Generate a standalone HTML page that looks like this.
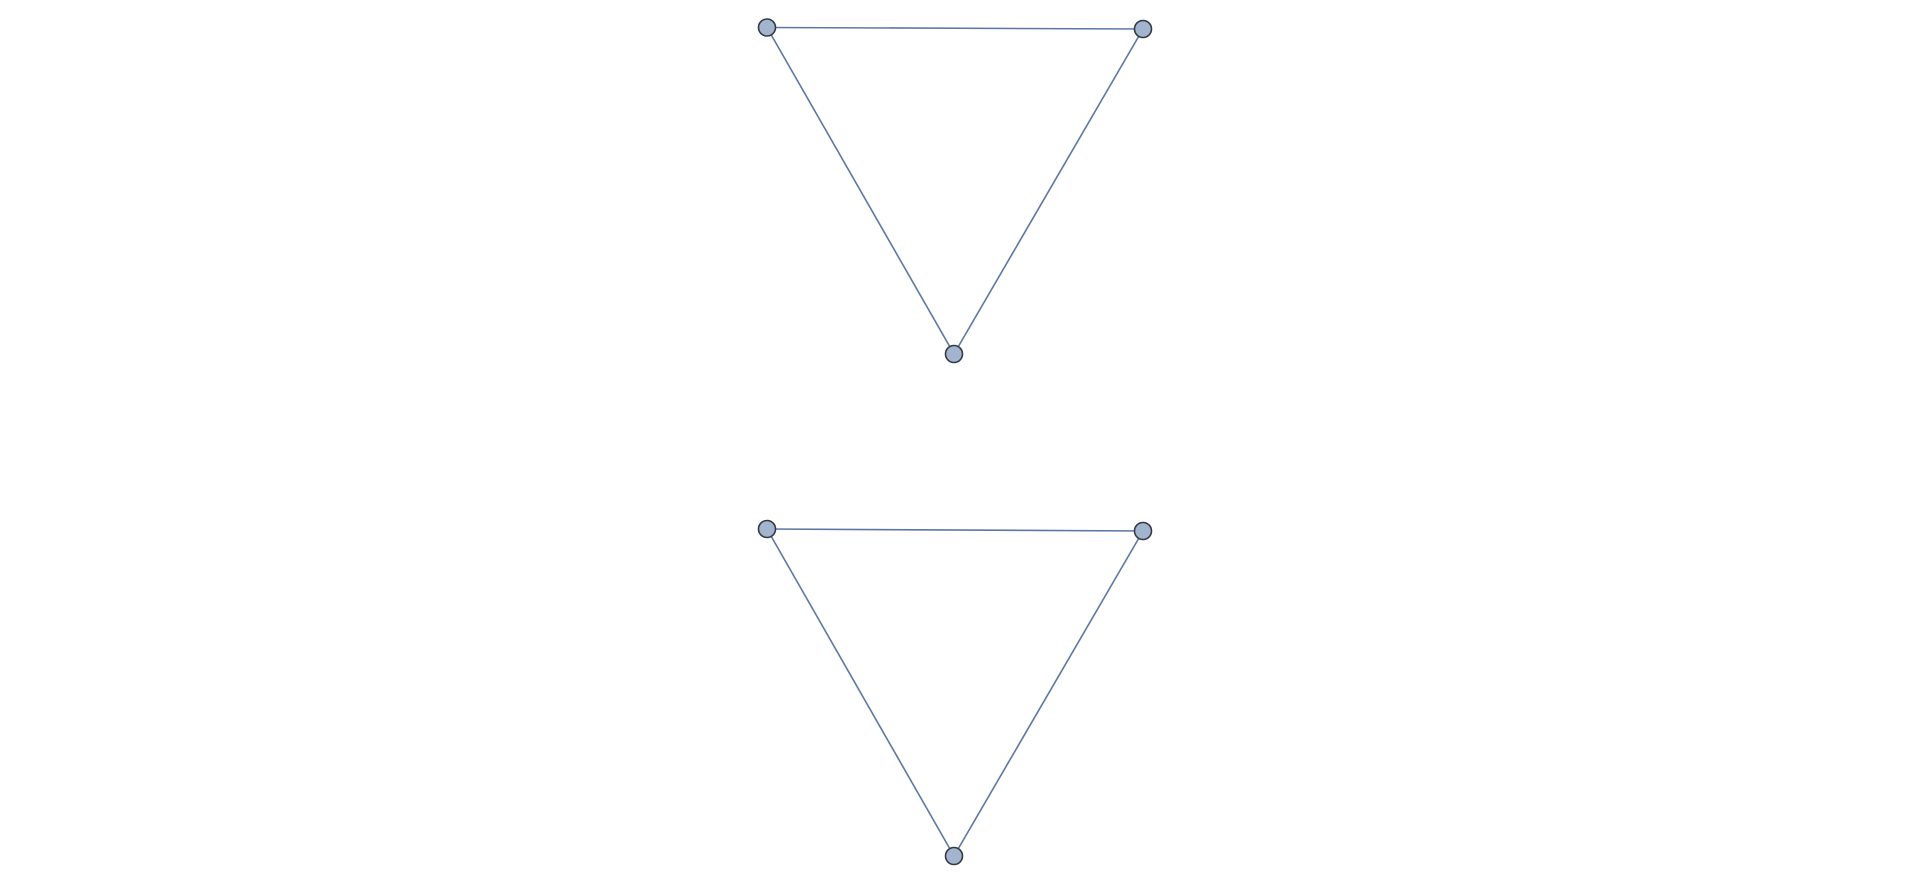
<!DOCTYPE html>
<html><head><meta charset="utf-8"><style>html,body{margin:0;padding:0;background:#fff;width:1921px;height:880px;overflow:hidden}</style></head>
<body>
<svg id="chart" width="1921" height="880" xmlns="http://www.w3.org/2000/svg"></svg>
<script>
const nodeX = [767, 1143, 954, 767, 1143, 954];
const nodeY = [27.5, 29, 354, 529, 531, 856];
const edgeFrom = [0, 0, 1, 3, 3, 4];
const edgeTo = [1, 2, 2, 4, 5, 5];
const NS = 'http://www.w3.org/2000/svg';
const svg = document.getElementById('chart');
for (let i = 0; i < edgeFrom.length; i++) {
  const l = document.createElementNS(NS, 'line');
  l.setAttribute('x1', nodeX[edgeFrom[i]]); l.setAttribute('y1', nodeY[edgeFrom[i]]);
  l.setAttribute('x2', nodeX[edgeTo[i]]); l.setAttribute('y2', nodeY[edgeTo[i]]);
  l.setAttribute('stroke', '#5b78a4'); l.setAttribute('stroke-width', '1.6');
  
  
  svg.appendChild(l);
}
for (let i = 0; i < nodeX.length; i++) {
  const c = document.createElementNS(NS, 'circle');
  c.setAttribute('cx', nodeX[i]); c.setAttribute('cy', nodeY[i]); c.setAttribute('r', '8.5');
  c.setAttribute('fill', '#a3b4cf'); c.setAttribute('stroke', '#333a44'); c.setAttribute('stroke-width', '1.6');
  
  
  svg.appendChild(c);
}
</script>
</body></html>
